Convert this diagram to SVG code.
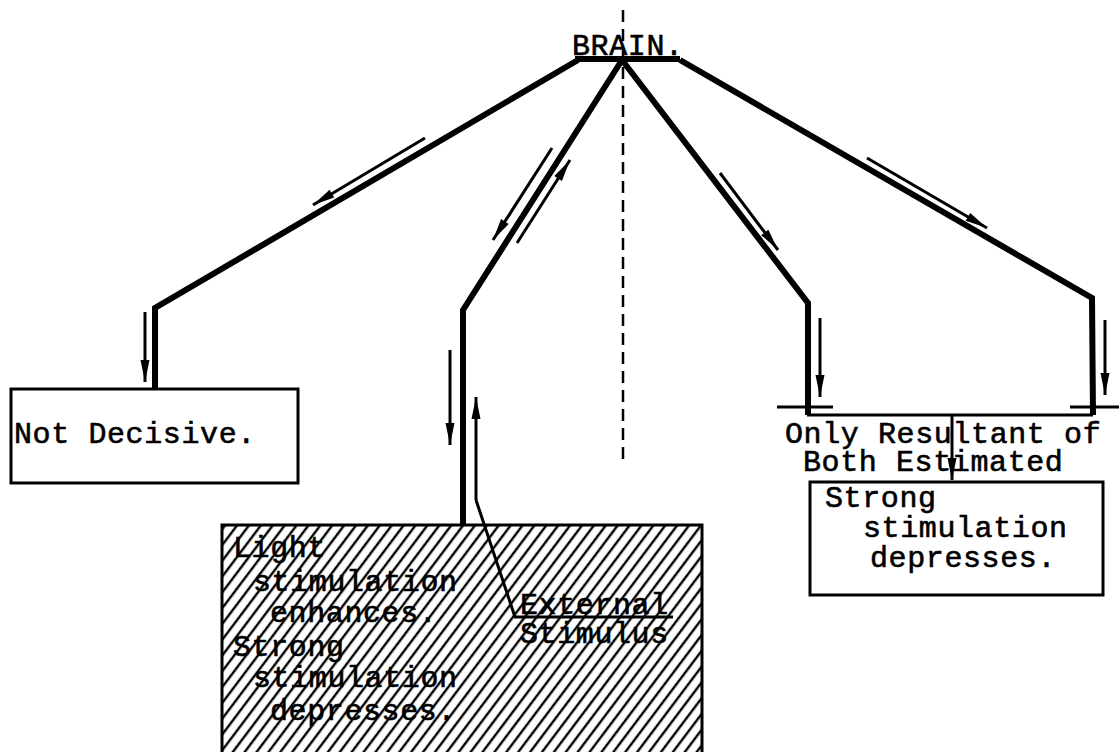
<svg xmlns="http://www.w3.org/2000/svg" width="1119" height="752" viewBox="0 0 1119 752">
<style>
.t{font-family:"Liberation Mono","Courier New",monospace;font-size:30px;letter-spacing:0.6px;fill:#000;stroke:#000;stroke-width:0.6}
.main{fill:none;stroke:#000;stroke-width:6;stroke-linejoin:miter}
.thin{fill:none;stroke:#000;stroke-width:3}
.arr{fill:none;stroke:#000;stroke-width:3;marker-end:url(#ah)}
.box{fill:#fff;stroke:#000;stroke-width:3}
</style>
<defs>
<marker id="ah" viewBox="-24 -6 26 12" markerWidth="26" markerHeight="12" refX="0" refY="0" orient="auto" markerUnits="userSpaceOnUse">
<path d="M0,0 L-22,-4.5 L-22,4.5 Z" fill="#000"/>
</marker>
<pattern id="hatch" patternUnits="userSpaceOnUse" width="9.5" height="20" patternTransform="rotate(37)">
<line x1="2" y1="-1" x2="2" y2="21" stroke="#000" stroke-width="2.4"/>
</pattern>
</defs>
<rect width="1119" height="752" fill="#fff"/>

<g id="axis">
<line x1="623" y1="10" x2="623" y2="466" stroke="#000" stroke-width="2.5" stroke-dasharray="12,7"/>
</g>

<g id="brain">
<text class="t" x="572" y="55">BRAIN.</text>
</g>

<g id="not-decisive">
<rect class="box" x="11" y="389" width="287" height="94"/>
<text class="t" x="14" y="443">Not Decisive.</text>
</g>

<g id="hatched-region">
<rect x="222" y="525" width="480" height="240" fill="#fff"/>
<rect x="222" y="525" width="480" height="240" fill="url(#hatch)" stroke="#000" stroke-width="3"/>
<text class="t" x="233" y="557">Light</text>
<text class="t" x="253" y="591">stimulation</text>
<text class="t" x="270" y="622">enhances.</text>
<text class="t" x="233" y="656">Strong</text>
<text class="t" x="253" y="687">stimulation</text>
<text class="t" x="270" y="720">depresses.</text>
<text class="t" x="520" y="614">External</text>
<text class="t" x="520" y="643">Stimulus</text>
</g>

<g id="resultant">
<text class="t" x="785" y="443">Only Resultant of</text>
<text class="t" x="803" y="471">Both Estimated</text>
</g>

<g id="strong-box">
<rect class="box" x="810" y="482" width="293" height="113"/>
<text class="t" x="825" y="507">Strong</text>
<text class="t" x="863" y="537">stimulation</text>
<text class="t" x="870" y="567">depresses.</text>
</g>

<g id="connectors">
<path class="main" d="M575,59 L680,59"/>
<path class="main" d="M578,60 L155,308 L155,390"/>
<path class="main" d="M622,60 L463,310 L463,526"/>
<path class="main" d="M622,60 L808,303 L808,415"/>
<path class="main" d="M680,60 L1092,298 L1093,415"/>
<path class="thin" d="M807,415 L1093,415"/>
<path class="thin" d="M777,407 L833,407"/>
<path class="thin" d="M1070,407 L1119,407"/>
<path class="arr" d="M952,415 L952,480"/>
<path class="thin" stroke-width="2" d="M476,500 L515,617 L673,617"/>
<path class="arr" d="M476,500 L476,397"/>
<path class="arr" d="M425,138 L313,205"/>
<path class="arr" d="M552,148 L493,240"/>
<path class="arr" d="M517,243 L570,160"/>
<path class="arr" d="M720,173 L778,250"/>
<path class="arr" d="M867,158 L987,228"/>
<path class="arr" d="M145,312 L145,382"/>
<path class="arr" d="M450,350 L450,445"/>
<path class="arr" d="M820,318 L820,397"/>
<path class="arr" d="M1105,320 L1105,395"/>
</g>
</svg>
